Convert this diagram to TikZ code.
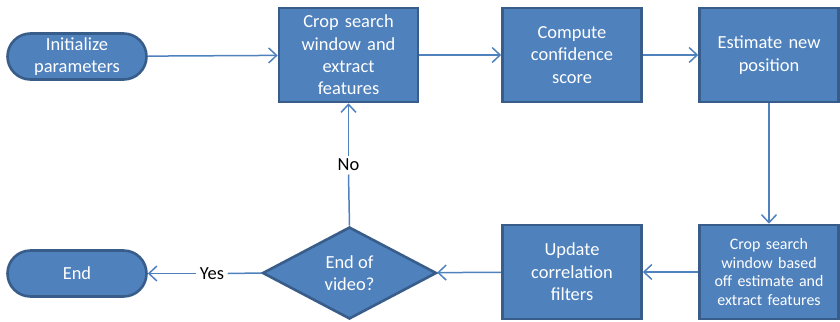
\documentclass[tikz,border=0pt]{standalone}
\usepackage{fontspec}
\setmainfont{Carlito}
\usetikzlibrary{shapes.geometric,arrows.meta}
\definecolor{boxfill}{HTML}{4F81BD}
\definecolor{boxedge}{HTML}{385D8A}
\definecolor{linkcol}{HTML}{4F81BD}
\tikzset{
  stepbox/.style={rectangle, draw=boxedge, line width=2.6bp, fill=boxfill,
    text=white, align=center, font=\fontsize{18.5}{22.5}\selectfont,
    minimum width=139bp, minimum height=94bp, inner sep=2bp, text width=134bp},
  pill/.style={rectangle, rounded corners=23bp, draw=boxedge, line width=2.6bp,
    fill=boxfill, text=white, align=center, font=\fontsize{18.5}{22.5}\selectfont,
    minimum width=139bp, minimum height=46bp},
  decide/.style={diamond, aspect=1.9, draw=boxedge, line width=2.6bp,
    fill=boxfill, text=white, align=center, font=\fontsize{18.5}{22.5}\selectfont,
    inner sep=0pt, minimum width=174bp, minimum height=92bp},
  link/.style={draw=linkcol, line width=1.5bp,
    -{Straight Barb[length=8bp,width=15bp,line width=1.5bp]}},
  plainlink/.style={draw=linkcol, line width=1.5bp},
  lbl/.style={font=\fontsize{18.5}{22.5}\selectfont, text=black}
}
\begin{document}
\begin{tikzpicture}[x=1bp,y=-1bp]
\useasboundingbox (0,0) rectangle (840,321);
\node[pill] (init) at (77,56.5) {Initialize\\parameters};
\node[stepbox] (crop) at (348.5,55) {Crop search\\window and\\extract\\features};
\node[stepbox] (conf) at (572,55) {Compute\\confidence\\score};
\node[stepbox] (est) at (769,55) {Estimate new\\position};
\node[stepbox, font=\fontsize{16}{18.5}\selectfont] (crop2) at (769,272) {Crop search\\window based\\off estimate and\\extract features};
\node[stepbox] (upd) at (572,272) {Update\\correlation\\filters};
\node[decide] (dec) at (349.5,273) {End of\\video?};
\node[pill] (end) at (77,273.5) {End};
\node[lbl] (no) at (348.5,165) {No};
\node[lbl] (yes) at (212,273.5) {Yes};

\draw[link] (init) -- (crop);
\draw[link] (crop) -- (conf);
\draw[link] (conf) -- (est);
\draw[link] (est) -- (crop2);
\draw[link] (crop2) -- (upd);
\draw[link] (upd) -- (dec);
\draw[plainlink] (dec.west) -- (yes.east);
\draw[link] (yes.west) -- (end);
\draw[plainlink] (dec.north) -- (no.south);
\draw[link] (no.north) -- (crop);
\end{tikzpicture}
\end{document}
